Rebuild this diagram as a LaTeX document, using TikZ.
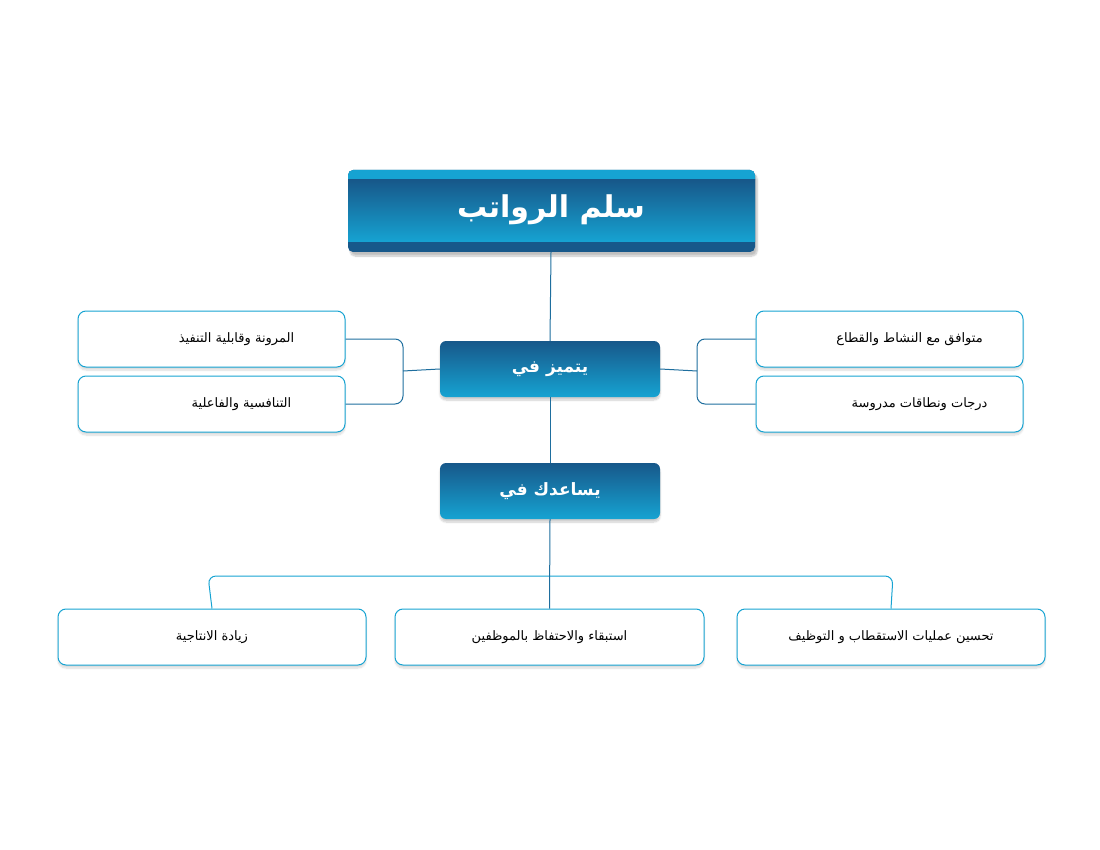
\documentclass[tikz,border=0pt]{standalone}
\usepackage{fontspec}
\newfontfamily\arabicfont[Script=Arabic]{DejaVu Sans}
\TeXXeTstate=1
\usetikzlibrary{shadows.blur}
\definecolor{dk}{HTML}{17588A}
\definecolor{cy}{HTML}{16A3D2}
\definecolor{ln}{HTML}{1E6E9E}
\tikzset{
 hdr/.style={rounded corners=6pt, top color=dk, bottom color=cy, draw=none, blur shadow={shadow blur steps=8, shadow xshift=0pt, shadow yshift=-3pt, shadow opacity=20}},
 wbox/.style={rounded corners=8pt, fill=white, draw=cy, line width=1pt, blur shadow={shadow blur steps=8, shadow xshift=0pt, shadow yshift=-3pt, shadow opacity=15}},
 conn/.style={draw=ln, line width=1pt, rounded corners=8pt},
 wtxt/.style={text=white, font=\arabicfont\bfseries\fontsize{17}{20}\selectfont},
 btxt/.style={text=black, font=\arabicfont\fontsize{13}{16}\selectfont},
}
\begin{document}
\begin{tikzpicture}[x=1pt,y=-1pt]
\useasboundingbox (0,0) rectangle (1100,850);
% title
\fill[dk, rounded corners=5pt, blur shadow={shadow blur steps=8, shadow yshift=-4pt, shadow opacity=25}] (348,170) rectangle (755,252);
\fill[cy, rounded corners=5pt] (348,170) rectangle (755,185);
\shade[top color=dk, bottom color=cy] (348,180) rectangle (755,242);
\node[text=white, font=\arabicfont\bfseries\fontsize{30}{34}\selectfont] (title) at (551,210) {\beginR سلم الرواتب\endR};
\coordinate (tb) at (551,252);
% headers
\node[hdr, minimum width=220pt, minimum height=56pt, wtxt] (h1) at (550,369) {\beginR يتميز في\endR};
\node[hdr, minimum width=220pt, minimum height=56pt, wtxt] (h2) at (550,491) {\beginR يساعدك في\endR};
% side boxes
\node[wbox, minimum width=267pt, minimum height=56pt, btxt] (l1) at (211.5,339) {\hspace*{50pt}\beginR المرونة وقابلية التنفيذ\endR};
\node[wbox, minimum width=267pt, minimum height=56pt, btxt] (l2) at (211.5,404) {\hspace*{60pt}\beginR التنافسية والفاعلية\endR};
\node[wbox, minimum width=267pt, minimum height=56pt, btxt] (r1) at (889.5,339) {\hspace*{40pt}\beginR متوافق مع النشاط والقطاع\endR};
\node[wbox, minimum width=267pt, minimum height=56pt, btxt] (r2) at (889.5,404) {\hspace*{60pt}\beginR درجات ونطاقات مدروسة\endR};
% bottom
\node[wbox, minimum width=308pt, minimum height=56pt, btxt] (b1) at (212,637) {\beginR زيادة الانتاجية\endR};
\node[wbox, minimum width=309pt, minimum height=56pt, btxt] (b2) at (549.5,637) {\beginR استبقاء والاحتفاظ بالموظفين\endR};
\node[wbox, minimum width=308pt, minimum height=56pt, btxt] (b3) at (891,637) {\beginR تحسين عمليات الاستقطاب و التوظيف\endR};
% connectors
\draw[conn] (tb) -- (h1.north);
\draw[conn] (h1.south) -- (h2.north);
\draw[conn] (l1.east) -- (403,339) -- (403,404) -- (l2.east);
\draw[conn, rounded corners=0pt] (403,371) -- (h1.west);
\draw[conn] (r1.west) -- (697,339) -- (697,404) -- (r2.west);
\draw[conn, rounded corners=0pt] (697,371) -- (h1.east);
\draw[conn, draw=cy] (b1.north) -- (208,576) -- (893,576) -- (b3.north);
\draw[conn] (h2.south) -- (b2.north);
\end{tikzpicture}
\end{document}
